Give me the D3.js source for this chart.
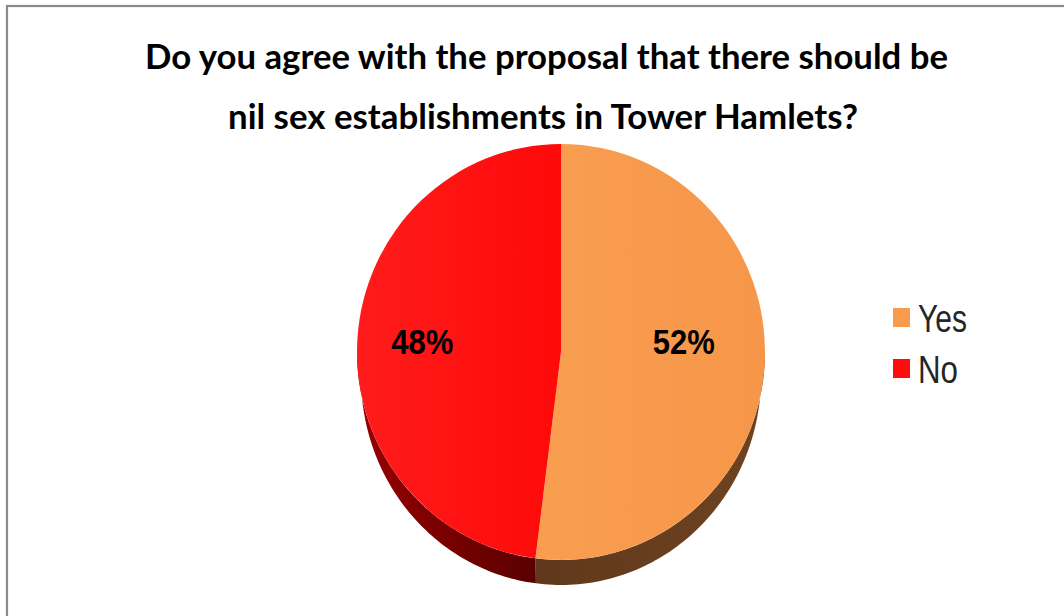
<!DOCTYPE html>
<html>
<head>
<meta charset="utf-8">
<script src="https://cdn.jsdelivr.net/npm/d3@7"></script>
<style>
  html, body { margin: 0; padding: 0; background: #ffffff; }
  svg { display: block; }
</style>
</head>
<body>
<svg id="chart" width="1064" height="616"></svg>
<script>
// Survey answers
const categories = ["Yes", "No"];
const values = [52, 48];
const titleLines = [
  "Do you agree with the proposal that there should be",
  "nil sex establishments in Tower Hamlets?"
];

const W = 1064, H = 616;
const svg = d3.select("#chart");

// Frame (right and bottom edges run off the canvas)
svg.append("rect")
  .attr("x", 7).attr("y", 6)
  .attr("width", W + 20).attr("height", H + 20)
  .attr("fill", "#ffffff")
  .attr("stroke", "#8a8a8a").attr("stroke-width", 2.2);

// Title
const titleSpec = [
  { x: 145, y: 69, len: 803 },
  { x: 228, y: 129, len: 630 }
];
svg.append("g").selectAll("text")
  .data(titleLines)
  .join("text")
  .attr("x", (d, i) => titleSpec[i].x)
  .attr("y", (d, i) => titleSpec[i].y)
  .attr("textLength", (d, i) => titleSpec[i].len)
  .attr("lengthAdjust", "spacingAndGlyphs")
  .attr("font-family", "Lato, 'Open Sans', sans-serif")
  .attr("font-weight", "bold")
  .attr("font-size", 34)
  .attr("fill", "#000")
  .text(d => d);

// Pie geometry: top ellipse, plus a slightly narrower base for perspective
const cx = 561, cy = 352, rx = 204, ry = 208, depth = 25, baseShrink = 4;

const color = d3.scaleOrdinal()
  .domain(categories)
  .range(["#f89b4c", "#ff0d0d"]);

const defs = svg.append("defs");
function grad(id, stops, x1, x2) {
  const g = defs.append("linearGradient").attr("id", id)
    .attr("x1", x1).attr("y1", "0").attr("x2", x2).attr("y2", "0");
  stops.forEach(([o, c]) => g.append("stop").attr("offset", o).attr("stop-color", c));
}
grad("topYes", [["0", "#f99e51"], ["1", "#f69649"]], "0", "1");
grad("topNo", [["0", "#ff1c1c"], ["1", "#ff0909"]], "0", "1");
grad("sideYes", [["0", "#5f381b"], ["1", "#6e4321"]], "0", "1");
grad("sideNo", [["0", "#980000"], ["1", "#5a0000"]], "0", "1");

const pie = d3.pie().sort(null).value(d => d.value);
const arcs = pie(categories.map((c, i) => ({ cat: c, value: values[i] })));

const ex = (a, r) => cx + r * Math.sin(a);
const ey = a => cy - ry * Math.cos(a);

// Visible side walls: lower half of the rim
const lineGen = d3.line();
const sideG = svg.append("g");
arcs.forEach(a => {
  const s = Math.max(a.startAngle, Math.PI / 2);
  const e = Math.min(a.endAngle, 3 * Math.PI / 2);
  if (e <= s) return;
  const n = 80;
  const ts = d3.range(n + 1).map(k => s + (e - s) * k / n);
  const rb = rx - baseShrink;
  const pts = ts.map(t => [ex(t, rx), ey(t)])
    .concat(ts.slice().reverse().map(t => [ex(t, rb), ey(t) + depth]));
  sideG.append("path")
    .attr("d", lineGen(pts) + "Z")
    .attr("fill", a.data.cat === "Yes" ? "url(#sideYes)" : "url(#sideNo)");
});

// Top face
const arcGen = d3.arc().innerRadius(0).outerRadius(rx);
svg.append("g")
  .attr("transform", `translate(${cx},${cy}) scale(1,${ry / rx})`)
  .selectAll("path")
  .data(arcs)
  .join("path")
  .attr("d", arcGen)
  .attr("fill", d => d.data.cat === "Yes" ? "url(#topYes)" : "url(#topNo)");

// Value labels
const labelR = 131, labelDx = -8;
svg.append("g").selectAll("text")
  .data(arcs)
  .join("text")
  .attr("x", d => cx + labelDx + labelR * Math.sin((d.startAngle + d.endAngle) / 2))
  .attr("y", cy - 11)
  .attr("text-anchor", "middle")
  .attr("dominant-baseline", "central")
  .attr("textLength", 62)
  .attr("lengthAdjust", "spacingAndGlyphs")
  .attr("font-family", "'Liberation Sans', Arial, sans-serif")
  .attr("font-weight", "bold")
  .attr("font-size", 35)
  .attr("fill", "#000")
  .text(d => `${d.data.value}%`);

// Legend
const legendY = d3.scalePoint().domain(categories).range([318, 369]);
const leg = svg.append("g").selectAll("g")
  .data(categories)
  .join("g")
  .attr("transform", d => `translate(893,${legendY(d)})`);
leg.append("rect")
  .attr("x", 0).attr("y", -10)
  .attr("width", 17).attr("height", 19)
  .attr("fill", d => color(d));
leg.append("text")
  .attr("x", 25).attr("y", 14)
  .attr("textLength", d => d === "Yes" ? 49 : 40)
  .attr("lengthAdjust", "spacingAndGlyphs")
  .attr("font-family", "'Liberation Sans', Arial, sans-serif")
  .attr("font-size", 38)
  .attr("fill", "#262626")
  .text(d => d);
</script>
</body>
</html>
